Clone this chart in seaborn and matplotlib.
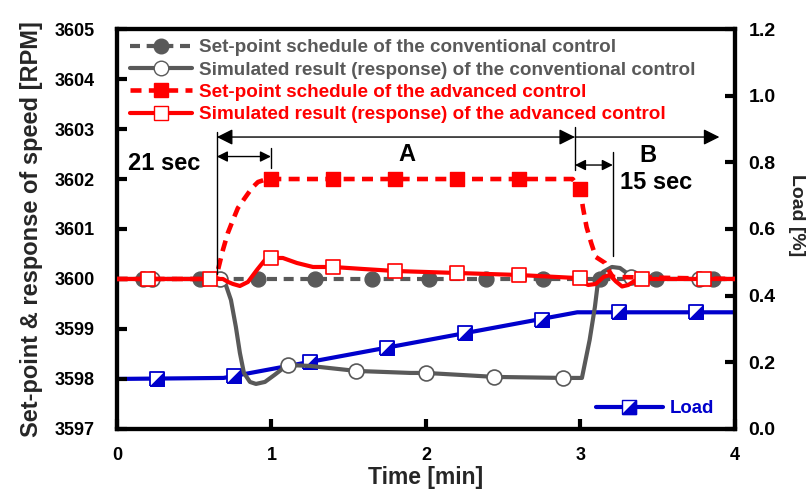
import matplotlib
matplotlib.use("Agg")
import matplotlib.pyplot as plt
import seaborn as sns
import pandas as pd
from matplotlib.lines import Line2D

# ---- data -------------------------------------------------------------
# Conventional control: set-point schedule (constant) and simulated speed
conv_sp_t = [0.0, 4.0]
conv_sp_v = [3600.0, 3600.0]
conv_sp_mark_t = [0.17, 0.54, 0.91, 1.28, 1.65, 2.02, 2.39, 2.76, 3.13, 3.49, 3.86]
conv_sp_mark_v = [3600.0] * 11

conv_res_t = [0.0, 0.65, 0.686, 0.705, 0.738, 0.77, 0.796, 0.822, 0.861, 0.90,
              0.958, 1.02, 1.087, 1.10, 1.25, 1.55, 1.90, 2.0, 2.45, 2.89, 3.01,
              3.06, 3.094, 3.113, 3.146, 3.204, 3.256, 3.30, 3.34, 3.40, 4.0]
conv_res_v = [3600.0, 3600.0, 3599.98, 3599.88, 3599.58, 3599.04, 3598.52, 3598.12,
              3597.94, 3597.90, 3597.94, 3598.08, 3598.24, 3598.28, 3598.26, 3598.16,
              3598.12, 3598.12, 3598.04, 3598.02, 3598.02, 3598.78, 3599.44, 3599.92,
              3600.14, 3600.24, 3600.22, 3600.12, 3600.02, 3600.0, 3600.0]
conv_res_mark_t = [0.23, 0.67, 1.11, 1.55, 2.0, 2.44, 2.89, 3.33, 3.77]
conv_res_mark_v = [3600.0, 3600.0, 3598.28, 3598.16, 3598.12, 3598.04, 3598.02, 3600.04, 3600.0]

# Advanced control: set-point schedule and simulated speed
adv_sp_t = [0.0, 0.647, 0.654, 0.686, 0.718, 0.751, 0.783, 0.828, 0.874, 0.913,
            0.971, 1.0, 2.95, 3.0, 3.016, 3.04, 3.07, 3.10, 3.16, 3.19, 3.21, 4.0]
adv_sp_v = [3600.0, 3600.0, 3600.18, 3600.58, 3600.92, 3601.18, 3601.42, 3601.62,
            3601.82, 3601.94, 3602.0, 3602.0, 3602.0, 3601.8, 3601.44, 3601.04,
            3600.72, 3600.44, 3600.32, 3600.14, 3600.04, 3600.0]
adv_sp_mark_t = [1.0, 1.4, 1.8, 2.2, 2.6, 3.0]
adv_sp_mark_v = [3602.0, 3602.0, 3602.0, 3602.0, 3602.0, 3601.8]

adv_res_t = [0.0, 0.647, 0.686, 0.72, 0.751, 0.796, 0.848, 0.906, 0.958, 1.003,
             1.074, 1.165, 1.269, 1.398, 1.592, 1.80, 2.2, 2.6, 2.97, 3.01, 3.05,
             3.10, 3.15, 3.19, 3.23, 3.27, 3.31, 3.35, 3.40, 4.0]
adv_res_v = [3600.0, 3600.0, 3600.0, 3599.94, 3599.9, 3599.86, 3599.94, 3600.18,
             3600.38, 3600.42, 3600.42, 3600.32, 3600.24, 3600.24, 3600.2, 3600.16,
             3600.12, 3600.08, 3600.02, 3599.95, 3599.88, 3599.9, 3600.04, 3600.08,
             3599.95, 3599.85, 3599.88, 3599.96, 3600.0, 3600.0]
adv_res_mark_t = [0.2, 0.6, 1.0, 1.4, 1.8, 2.2, 2.6, 3.0, 3.4, 3.8]
adv_res_mark_v = [3600.0, 3600.0, 3600.42, 3600.24, 3600.16, 3600.12, 3600.08,
                  3600.02, 3600.0, 3600.0]

# Load (right axis)
load_t = [0.0, 0.69, 2.98, 4.0]
load_v = [0.15, 0.153, 0.35, 0.35]
load_mark_t = [0.26, 0.76, 1.25, 1.75, 2.25, 2.75, 3.25, 3.75]
load_mark_v = [0.15, 0.159, 0.20, 0.243, 0.288, 0.327, 0.35, 0.35]

x_ticks = [0, 1, 2, 3, 4]
speed_ticks = [3597, 3598, 3599, 3600, 3601, 3602, 3603, 3604, 3605]
load_ticks = [0.0, 0.2, 0.4, 0.6, 0.8, 1.0, 1.2]

legend_labels = [
    "Set-point schedule of the conventional control",
    "Simulated result (response) of the conventional control",
    "Set-point schedule of the advanced control",
    "Simulated result (response) of the advanced control",
]

# ---- style ------------------------------------------------------------
sns.set_theme(style="ticks")
plt.rcParams["font.family"] = ["Liberation Sans", "DejaVu Sans"]
plt.rcParams["font.weight"] = "bold"

GREY = "#595959"
RED = "#ff0000"
BLUE = "#0000cc"
LW = 3.0
DASH = (0, (2.4, 1.6))

fig = plt.figure(figsize=(8.12, 4.93), dpi=100)
ax = fig.add_axes([0.144, 0.130, 0.761, 0.811])
ax2 = ax.twinx()


def df(t, v):
    return pd.DataFrame({"t": t, "v": v})


# load on the secondary axis
sns.lineplot(data=df(load_t, load_v), x="t", y="v", ax=ax2, color=BLUE, linewidth=LW,
             sort=False, estimator=None, zorder=2)
sq_path = [(-1, -1), (1, -1), (1, 1), (-1, 1), (-1, -1)]
tri_path = [(-1, -1), (1, -1), (1, 1), (-1, -1)]
sns.scatterplot(data=df(load_mark_t, load_mark_v), x="t", y="v", ax=ax2,
                marker=sq_path, s=100, color="white", edgecolor=BLUE, linewidth=1.3, zorder=3)
sns.scatterplot(data=df(load_mark_t, load_mark_v), x="t", y="v", ax=ax2,
                marker=tri_path, s=100, color=BLUE, edgecolor=BLUE, linewidth=0.8, zorder=4)

# speed curves on the primary axis (drawn above the load axis)
ax.set_zorder(ax2.get_zorder() + 1)
ax.patch.set_visible(False)

sns.lineplot(data=df(conv_sp_t, conv_sp_v), x="t", y="v", ax=ax, color=GREY, linewidth=LW,
             sort=False, estimator=None, zorder=2)
ax.lines[-1].set_linestyle(DASH)
sns.scatterplot(data=df(conv_sp_mark_t, conv_sp_mark_v), x="t", y="v", ax=ax,
                marker="o", s=115, color=GREY, edgecolor=GREY, linewidth=1, zorder=3)

sns.lineplot(data=df(conv_res_t, conv_res_v), x="t", y="v", ax=ax, color=GREY, linewidth=LW,
             sort=False, estimator=None, zorder=4)
sns.scatterplot(data=df(conv_res_mark_t, conv_res_mark_v), x="t", y="v", ax=ax,
                marker="o", s=115, color="white", edgecolor=GREY, linewidth=1.2, zorder=5)

sns.lineplot(data=df(adv_sp_t, adv_sp_v), x="t", y="v", ax=ax, color=RED, linewidth=LW + 0.3,
             sort=False, estimator=None, zorder=6)
ax.lines[-1].set_linestyle(DASH)
sns.scatterplot(data=df(adv_sp_mark_t, adv_sp_mark_v), x="t", y="v", ax=ax,
                marker="s", s=115, color=RED, edgecolor=RED, linewidth=1, zorder=7)

sns.lineplot(data=df(adv_res_t, adv_res_v), x="t", y="v", ax=ax, color=RED, linewidth=LW,
             sort=False, estimator=None, zorder=8)
sns.scatterplot(data=df(adv_res_mark_t, adv_res_mark_v), x="t", y="v", ax=ax,
                marker="s", s=110, color="white", edgecolor=RED, linewidth=1.2, zorder=9)

# ---- axes -------------------------------------------------------------
ax.set_xlim(0, 4)
ax.set_ylim(3597, 3605)
ax2.set_ylim(0, 1.2)
ax.set_xticks(x_ticks)
ax.set_yticks(speed_ticks)
ax2.set_yticks(load_ticks)
ax2.set_yticklabels([f"{v:.1f}" for v in load_ticks])

for a in (ax, ax2):
    for s in a.spines.values():
        s.set_linewidth(3)
        s.set_color("black")
    a.tick_params(direction="in", length=7, width=3, labelsize=13, colors="black")
    for lab in a.get_xticklabels() + a.get_yticklabels():
        lab.set_fontweight("bold")
ax.tick_params(axis="y", pad=16)
ax.tick_params(axis="x", pad=13)
ax2.tick_params(axis="y", pad=10, labelsize=14)

ax.set_xlabel("Time [min]", fontsize=16.5, fontweight="bold")
ax.xaxis.set_label_coords(0.5, -0.122)
ax.xaxis.label.set_va("center")
ax.set_ylabel("Set-point & response of speed [RPM]", fontsize=17, fontweight="bold")
ax.yaxis.set_label_coords(-0.139, 0.5)
ax.yaxis.label.set_va("center")
ax2.set_ylabel("Load [%]", fontsize=14, fontweight="bold", rotation=270)
ax2.yaxis.set_label_coords(1.1, 0.535)
ax2.yaxis.label.set_va("center")

# ---- legends ----------------------------------------------------------
h_conv_sp = Line2D([], [], color=GREY, lw=LW, ls=DASH, marker="o", ms=10.5,
                   mfc=GREY, mec=GREY)
h_conv_res = Line2D([], [], color=GREY, lw=LW, marker="o", ms=10.5, mfc="white", mec=GREY)
h_adv_sp = Line2D([], [], color=RED, lw=LW + 0.3, ls=DASH, marker="s", ms=10.5,
                  mfc=RED, mec=RED)
h_adv_res = Line2D([], [], color=RED, lw=LW, marker="s", ms=10, mfc="white", mec=RED)
leg = ax.legend([h_conv_sp, h_conv_res, h_adv_sp, h_adv_res], legend_labels,
                loc="upper left", bbox_to_anchor=(0.0, 1.008), frameon=False,
                fontsize=13.6, handlelength=3.3, handletextpad=0.35, labelspacing=0.27,
                borderaxespad=0.3)
for txt, col in zip(leg.get_texts(), [GREY, GREY, RED, RED]):
    txt.set_color(col)
    txt.set_fontweight("bold")

h_load_sq = Line2D([], [], color=BLUE, lw=LW, marker=sq_path, ms=10, mfc="white", mec=BLUE)
h_load_tri = Line2D([], [], ls="none", marker=tri_path, ms=10, mfc=BLUE, mec=BLUE)
leg2 = ax2.legend([(h_load_sq, h_load_tri)], ["Load"], loc="lower right",
                  bbox_to_anchor=(0.978, 0.01), frameon=False, fontsize=13.4,
                  handlelength=3.6, handletextpad=0.35, borderaxespad=0.0)
leg2.get_texts()[0].set_color(BLUE)
leg2.get_texts()[0].set_fontweight("bold")

# ---- annotations --------------------------------------------------------
lkw = dict(color="black", lw=1.0, zorder=10)
ax.plot([0.647, 0.647], [3602.95, 3600.1], **lkw)
ax.plot([0.997, 0.997], [3602.62, 3602.22], **lkw)
ax.plot([2.965, 2.965], [3603.05, 3602.18], **lkw)
ax.plot([3.21, 3.21], [3602.55, 3600.45], **lkw)

big_arrow = dict(arrowstyle="<|-|>", color="black", lw=1.0, mutation_scale=24, shrinkA=0, shrinkB=0)
small_arrow = dict(arrowstyle="<|-|>", color="black", lw=1.0, mutation_scale=16, shrinkA=0, shrinkB=0)
ax.annotate("", xy=(2.965, 3602.84), xytext=(0.647, 3602.84), arrowprops=big_arrow, zorder=10)
ax.annotate("", xy=(3.90, 3602.84), xytext=(2.965, 3602.84),
            arrowprops=dict(arrowstyle="-|>", color="black", lw=1.0, mutation_scale=24,
                            shrinkA=0, shrinkB=0), zorder=10)
ax.annotate("", xy=(0.997, 3602.45), xytext=(0.647, 3602.45), arrowprops=small_arrow, zorder=10)
ax.annotate("", xy=(3.21, 3602.28), xytext=(2.965, 3602.28), arrowprops=small_arrow, zorder=10)

tkw = dict(fontsize=17, fontweight="bold", color="black", zorder=10)
ax.text(1.88, 3602.5, "A", ha="center", va="center", **tkw)
ax.text(3.44, 3602.48, "B", ha="center", va="center", **tkw)
ax.text(0.07, 3602.32, "21 sec", ha="left", va="center", **tkw)
ax.text(3.49, 3601.94, "15 sec", ha="center", va="center", **tkw)

fig.savefig("out.png", dpi=100)
